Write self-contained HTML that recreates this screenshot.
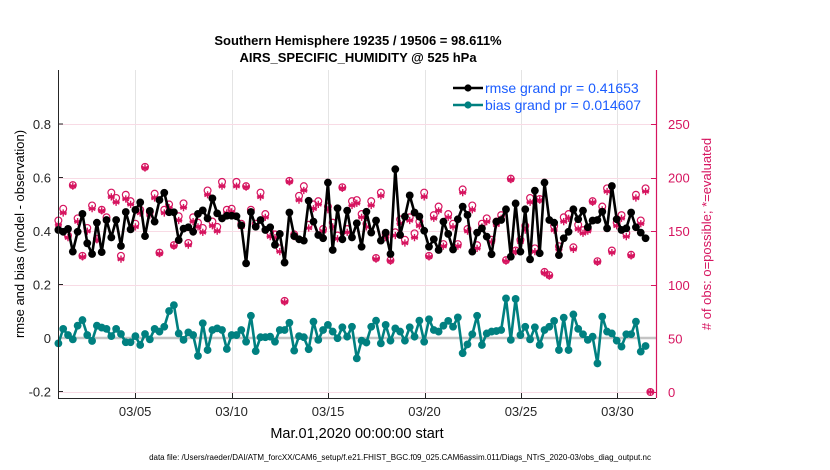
<!DOCTYPE html>
<html><head><meta charset="utf-8"><style>
body{margin:0;background:#fff;width:830px;height:470px;overflow:hidden;font-family:"Liberation Sans",sans-serif}
svg{display:block}
</style></head><body>
<svg id="chart" width="830" height="470" xmlns="http://www.w3.org/2000/svg" font-family="Liberation Sans, sans-serif">
<text x="358" y="45" text-anchor="middle" font-size="13" font-weight="bold">Southern Hemisphere 19235 / 19506 = 98.611%</text>
<text x="358" y="62" text-anchor="middle" font-size="13" font-weight="bold">AIRS_SPECIFIC_HUMIDITY @ 525 hPa</text>
<text transform="translate(24,234) rotate(-90)" text-anchor="middle" font-size="13">rmse and bias (model - observation)</text>
<text transform="translate(711,234) rotate(-90)" text-anchor="middle" font-size="13" fill="#d6145f"># of obs: o=possible; *=evaluated</text>
<text x="357" y="438" text-anchor="middle" font-size="14.5">Mar.01,2020 00:00:00 start</text>
<text x="400" y="460" text-anchor="middle" font-size="8">data file: /Users/raeder/DAI/ATM_forcXX/CAM6_setup/f.e21.FHIST_BGC.f09_025.CAM6assim.011/Diags_NTrS_2020-03/obs_diag_output.nc</text>
<g id="plot"></g>
</svg>
<script>
const rmse=[0.404,0.397,0.408,0.323,0.397,0.464,0.354,0.314,0.431,0.321,0.441,0.376,0.441,0.344,0.471,0.406,0.479,0.507,0.381,0.475,0.435,0.516,0.543,0.470,0.470,0.366,0.409,0.414,0.397,0.464,0.477,0.447,0.522,0.466,0.447,0.457,0.457,0.455,0.421,0.279,0.471,0.416,0.441,0.404,
0.414,0.348,0.389,0.282,0.469,0.381,0.369,0.364,0.513,0.435,0.385,0.373,0.581,0.329,0.485,0.369,0.476,0.376,0.429,0.341,0.472,0.394,0.439,0.364,0.394,0.314,0.631,0.385,0.454,0.533,0.469,0.454,0.401,0.341,0.369,0.329,0.435,0.389,0.331,0.444,0.491,
0.460,0.323,0.394,0.410,0.379,0.313,0.435,0.441,0.481,0.304,0.503,0.323,0.481,0.294,0.551,0.317,0.581,0.441,0.431,0.310,0.373,0.397,0.481,0.444,0.476,0.414,0.439,0.441,0.472,0.410,0.568,0.444,0.404,0.410,0.469,0.414,0.394,0.373,null];
const bias=[-0.020,0.034,0.011,-0.005,0.046,0.067,0.011,-0.011,0.046,0.039,0.034,0.007,0.034,0.015,-0.016,-0.016,0.007,-0.026,0.015,-0.005,0.034,0.024,0.042,0.101,0.123,0.017,-0.007,0.021,0.011,-0.067,0.055,-0.045,0.030,0.036,0.030,-0.041,0.011,0.011,0.030,-0.014,0.083,-0.049,0.003,0.003,
0.005,-0.014,0.030,0.030,0.057,-0.047,0.007,0.003,-0.042,0.061,-0.007,0.030,0.049,0.024,-0.001,0.040,0.005,0.042,-0.076,-0.010,-0.017,0.042,0.065,-0.020,0.049,-0.010,0.036,0.024,-0.010,0.040,0.005,0.065,-0.014,0.070,0.030,0.024,0.046,0.064,0.042,0.077,-0.057,
-0.024,0.014,0.083,-0.026,0.017,0.024,0.026,0.030,0.148,-0.007,0.146,0.011,0.042,-0.005,0.040,-0.026,0.030,0.042,0.064,-0.045,0.076,-0.045,0.088,0.034,0.014,-0.007,0.005,-0.095,0.080,0.024,0.017,-0.010,-0.032,0.014,0.014,0.061,-0.051,-0.030,null];
const evaluated=[156,167,144,192,159,126,150,171,142,169,160,182,177,124,180,175,154,167,209,165,181,129,167,172,136,160,172,137,159,154,149,184,155,150,192,167,168,192,154,191,168,154,182,163,
145,144,131,84,196,145,179,188,153,171,175,150,170,154,143,190,149,174,176,163,154,174,124,183,144,122,146,157,139,160,144,155,182,126,162,169,136,163,154,136,186,
150,170,134,154,159,140,156,162,122,198,131,140,151,177,131,179,111,108,151,133,159,162,133,152,148,150,177,121,170,187,130,155,162,145,127,181,157,187,0];
const possible=[160,171,146,193,162,127,153,174,143,170,163,186,181,127,184,178,157,170,210,168,185,130,170,175,137,164,176,139,163,158,153,188,159,154,196,170,171,196,157,192,170,157,186,166,
149,147,134,85,197,147,183,192,156,175,178,152,173,158,146,191,152,178,179,166,157,178,125,186,147,123,149,161,142,163,148,159,186,127,165,173,138,166,157,138,189,
152,174,137,157,162,142,159,165,123,199,132,142,155,181,134,180,112,109,155,136,163,166,135,156,151,152,178,122,173,190,132,158,165,148,128,184,160,190,0];
const xTickDays=[4,9,14,19,24,29];
const xTickLabels=["03/05","03/10","03/15","03/20","03/25","03/30"];
const yTicksLeft=[-0.2,0,0.2,0.4,0.6,0.8];
const yTicksRight=[0,50,100,150,200,250];

const NS="http://www.w3.org/2000/svg";
const L=58,R=656,T=70,B=398;
const X=d=>L+(d)/31*(R-L);
const YL=v=>338-v*267.5;
const YR=c=>392-c*1.072;
const dayOf=i=>i*0.2495+0.02;
const g=document.getElementById('plot');
function mk(tag,at,parent){const e=document.createElementNS(NS,tag);for(const k in at)e.setAttribute(k,at[k]);(parent||g).appendChild(e);return e;}

const bg=mk('rect',{x:L,y:T,width:R-L,height:B-T,fill:'#fff'});


xTickDays.forEach((d,i)=>{
 const xp=Math.round(X(d))+0.5;
 const gl=mk('line',{x1:xp,x2:xp,y1:T,y2:B,stroke:'#e4e4e4','stroke-width':1});
 
 
 const tk=mk('line',{x1:xp,x2:xp,y1:B,y2:B-5,stroke:'#262626'});
 
 
 const t=mk('text',{x:X(d),y:416,'text-anchor':'middle','font-size':13,fill:'#262626'});
 t.textContent=xTickLabels[i];
 
 
});
yTicksRight.forEach(c=>{
 const yp=Math.round(YR(c))+0.5;
 const gl=mk('line',{x1:L,x2:R,y1:yp,y2:yp,stroke:'#f8dbe5','stroke-width':1});
 
 
 const tk=mk('line',{x1:R,x2:R-5,y1:yp,y2:yp,stroke:'#d6145f'});
 
 
 const t=mk('text',{x:668,y:YR(c)+5,'font-size':13,fill:'#d6145f'});
 t.textContent=c;
 
 
});
yTicksLeft.forEach(v=>{
 const tk=mk('line',{x1:L,x2:L+5,y1:YL(v),y2:YL(v),stroke:'#262626'});
 
 
 const t=mk('text',{x:51,y:YL(v)+5,'text-anchor':'end','font-size':13,fill:'#262626'});
 t.textContent=v===0?'0':v.toFixed(1);
 
 
});
const zl=mk('line',{x1:L,x2:R,y1:YL(0),y2:YL(0),stroke:'#c4c4c4','stroke-width':2.5});



const gObs=mk('g',{});
possible.forEach((c,i)=>{
 const x=X(dayOf(i)),y=YR(c);
 const o=mk('circle',{cx:x,cy:y,r:3.4,fill:'none',stroke:'#d6145f','stroke-width':1.2},gObs);
 
 
});
evaluated.forEach((c,i)=>{
 const x=X(dayOf(i)),y=YR(c),r=3.6;
 let d='';
 [0,60,120].forEach(a=>{const dx=r*Math.sin(a*Math.PI/180),dy=r*Math.cos(a*Math.PI/180);d+=`M${(x-dx).toFixed(1)},${(y-dy).toFixed(1)}L${(x+dx).toFixed(1)},${(y+dy).toFixed(1)}`;});
 d+=`M${(x-r).toFixed(1)},${y.toFixed(1)}L${(x+r).toFixed(1)},${y.toFixed(1)}`;
 const s=mk('path',{d:d,stroke:'#d6145f','stroke-width':1.4,fill:'none'},gObs);
 
 
});

function series(vals,color,name){
 let d='';vals.forEach((v,i)=>{if(v===null)return;d+=(d?'L':'M')+X(dayOf(i)).toFixed(1)+','+YL(v).toFixed(1);});
 const p=mk('path',{d:d,fill:'none',stroke:color,'stroke-width':2.6,'stroke-linejoin':'round'});
 
 
 vals.forEach((v,i)=>{if(v===null)return;
  const c=mk('circle',{cx:X(dayOf(i)),cy:YL(v),r:3.9,fill:color});
  
  
 });
}
series(bias,'#008080','bias');
series(rmse,'#000','rmse');

const ax=mk('path',{d:`M${L+0.5},${T}V${B+0.5}H${R}`,fill:'none',stroke:'#262626','stroke-width':1});


const rax=mk('line',{x1:R+0.5,x2:R+0.5,y1:T,y2:B,stroke:'#d6145f','stroke-width':1.2});



const lg=mk('g',{});


[['rmse grand pr = 0.41653','#000',88],['bias grand pr = 0.014607','#008080',105]].forEach(([t,c,y],k)=>{
 const e=mk('g',{},lg);
 
 
 mk('line',{x1:453,x2:483,y1:y,y2:y,stroke:c,'stroke-width':2.6},e);
 mk('circle',{cx:468,cy:y,r:3.6,fill:c},e);
 const tx=mk('text',{x:485,y:y+5,'font-size':14,fill:'#1a5cff'},e);
 tx.textContent=t;
});
</script>
</body></html>
